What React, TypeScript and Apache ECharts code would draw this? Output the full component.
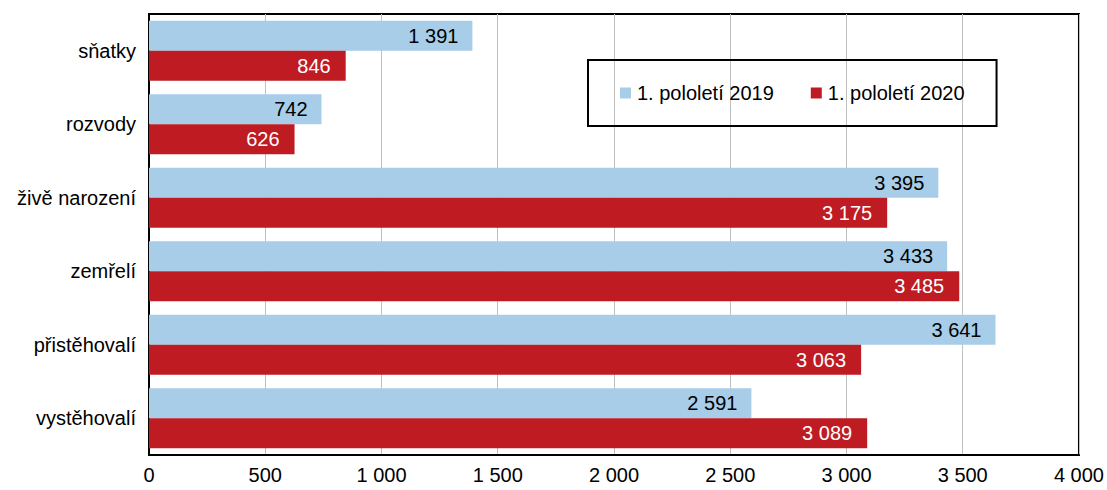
import React, { useEffect, useRef } from "react";
import * as echarts from "echarts";

const categories = ["sňatky", "rozvody", "živě narození", "zemřelí", "přistěhovalí", "vystěhovalí"];
const values2019 = [1391, 742, 3395, 3433, 3641, 2591];
const values2020 = [846, 626, 3175, 3485, 3063, 3089];
const seriesNames = ["1. pololetí 2019", "1. pololetí 2020"];

const fmt = (v: number) => {
  const s = String(Math.round(v));
  return s.replace(/\B(?=(\d{3})+(?!\d))/g, " ");
};

const FONT = "Liberation Sans, Arial, sans-serif";
const FS = 20;

export default function App() {
  const ref = useRef<HTMLDivElement>(null);
  useEffect(() => {
    if (!ref.current) return;
    const chart = echarts.init(ref.current, null, { renderer: "svg" });
    chart.setOption({
      animation: false,
      backgroundColor: "#fff",
      textStyle: { fontFamily: FONT },
      grid: {
        left: 149,
        right: 25,
        top: 14,
        bottom: 35,
        show: true,
        borderColor: "#000",
        borderWidth: 2,
        containLabel: false,
      },
      legend: {
        left: 588,
        top: 60,
        orient: "horizontal",
        data: seriesNames,
        itemWidth: 11,
        itemHeight: 11,
        itemGap: 37,
        icon: "rect",
        borderColor: "#000",
        borderWidth: 2,
        padding: [23, 32, 23, 32],
        textStyle: { fontSize: FS, color: "#000", fontFamily: FONT, padding: [0, 0, 0, 1] },
      },
      xAxis: {
        type: "value",
        min: 0,
        max: 4000,
        interval: 500,
        axisLine: { show: true, lineStyle: { color: "#000", width: 2 } },
        axisTick: { show: false },
        splitLine: { show: true, lineStyle: { color: "#c0c0c0", width: 1 } },
        axisLabel: {
          fontSize: FS,
          color: "#000",
          fontFamily: FONT,
          margin: 10,
          formatter: (v: number) => fmt(v),
        },
      },
      yAxis: {
        type: "category",
        data: categories,
        inverse: true,
        axisLine: { show: true, lineStyle: { color: "#000", width: 2 } },
        axisTick: { show: false },
        axisLabel: { fontSize: FS, color: "#000", fontFamily: FONT, margin: 13 },
      },
      series: [
        {
          name: seriesNames[0],
          type: "bar",
          data: values2019,
          itemStyle: { color: "#a7cde8" },
          barWidth: 30,
          barGap: "0%",
          label: {
            show: true,
            position: "insideRight",
            distance: 14,
            fontSize: FS,
            color: "#000",
            fontFamily: FONT,
            formatter: (p: any) => fmt(p.value),
          },
        },
        {
          name: seriesNames[1],
          type: "bar",
          data: values2020,
          itemStyle: { color: "#be1b23" },
          barWidth: 30,
          barGap: "0%",
          label: {
            show: true,
            position: "insideRight",
            distance: 15,
            fontSize: FS,
            color: "#fff",
            fontFamily: FONT,
            formatter: (p: any) => fmt(p.value),
          },
        },
      ],
    });
    return () => chart.dispose();
  }, []);
  return (
    <div
      ref={ref}
      style={{ position: "fixed", left: 0, top: 0, width: 1107, height: 490 }}
    />
  );
}
